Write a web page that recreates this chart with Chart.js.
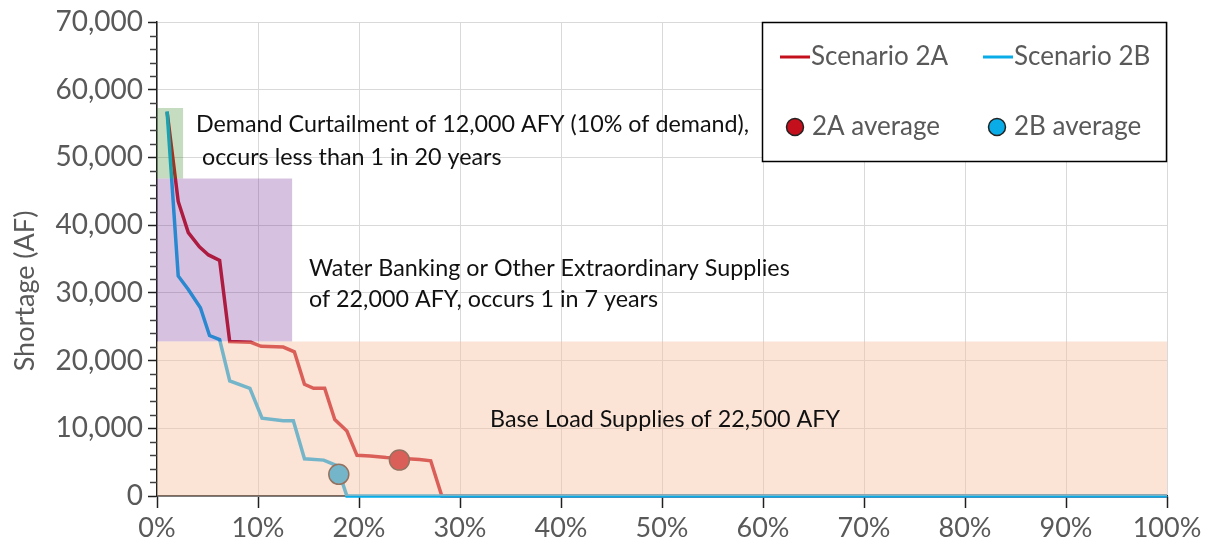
<!DOCTYPE html>
<html>
<head>
<meta charset="utf-8">
<script src="https://cdn.jsdelivr.net/npm/chart.js@4.4.1/dist/chart.umd.min.js"></script>
<style>
  html, body { margin: 0; padding: 0; background: #fff; }
  #wrap { width: 1208px; height: 546px; }
</style>
</head>
<body>
<div id="wrap"><canvas id="myChart" width="1208" height="546"></canvas></div>
<script>
// exceedance (% of years) vs shortage (AF)
var pct2A   = [1.0, 2.1, 3.1, 4.2, 5.1, 6.2, 7.2, 9.3, 10.3, 12.5, 13.6, 14.6, 15.5, 16.6, 17.6, 18.8, 19.8, 21.1, 22.7, 26.0, 27.1, 28.2, 100];
var short2A = [56700, 43500, 38900, 36800, 35600, 34800, 22800, 22700, 22100, 22000, 21300, 16500, 15900, 15900, 11300, 9600, 6000, 5900, 5700, 5400, 5200, 0, 0];

var pct2B   = [1.0, 2.1, 3.1, 4.3, 5.2, 6.2, 7.2, 9.2, 10.4, 12.5, 13.5, 14.6, 16.5, 17.8, 18.8, 100];
var short2B = [56800, 32500, 30500, 27800, 23700, 23100, 17000, 15900, 11500, 11100, 11100, 5500, 5300, 4500, 0, 0];

var avg2A = [24.0, 5300];
var avg2B = [18.0, 3200];

// shaded bands: [x end %, y bottom, y top]
var bandCurtail = [2.6, 46900, 57300];
var bandBanking = [13.4, 22800, 46900];
var bandBase    = [100, 0, 22800];

var notes = [
  { x: 196, y: 124, text: 'Demand Curtailment of 12,000 AFY (10% of demand),' },
  { x: 196, y: 157, text: ' occurs less than 1 in 20 years' },
  { x: 309, y: 268, text: 'Water Banking or Other Extraordinary Supplies' },
  { x: 309, y: 299, text: 'of 22,000 AFY, occurs 1 in 7 years' },
  { x: 490, y: 419, text: 'Base Load Supplies of 22,500 AFY' }
];

var RED = 'rgb(196,16,28)';
var BLUE = 'rgb(10,172,232)';
var FONT = 'Lato';

function pts(xs, ys) {
  return xs.map(function (x, i) { return { x: x, y: ys[i] }; });
}
function band(b) {
  return [{ x: 0, y: b[2] }, { x: b[0], y: b[2] }];
}

var datasets = [
  { label: 'Scenario 2A', data: pts(pct2A, short2A), borderColor: RED, backgroundColor: RED,
    borderWidth: 3.5, pointRadius: 0, tension: 0, fill: false, clip: 5, order: 10 },
  { label: 'Scenario 2B', data: pts(pct2B, short2B), borderColor: BLUE, backgroundColor: BLUE,
    borderWidth: 3.5, pointRadius: 0, tension: 0, fill: false, clip: 5, order: 9 },
  { label: '2A average', data: [{ x: avg2A[0], y: avg2A[1] }], showLine: false, pointRadius: 10,
    pointBackgroundColor: RED, pointBorderColor: 'rgb(70,50,40)', pointBorderWidth: 1.5, order: 8 },
  { label: '2B average', data: [{ x: avg2B[0], y: avg2B[1] }], showLine: false, pointRadius: 10,
    pointBackgroundColor: BLUE, pointBorderColor: 'rgb(70,50,40)', pointBorderWidth: 1.5, order: 7 },
  { label: 'band1', data: band(bandCurtail), fill: { value: bandCurtail[1] }, backgroundColor: 'rgba(65,138,45,0.3)',
    borderColor: 'rgba(0,0,0,0)', borderWidth: 0, pointRadius: 0, order: 3 },
  { label: 'band2', data: band(bandBanking), fill: { value: bandBanking[1] }, backgroundColor: 'rgba(118,52,152,0.3)',
    borderColor: 'rgba(0,0,0,0)', borderWidth: 0, pointRadius: 0, order: 2 },
  { label: 'band3', data: band(bandBase), fill: { value: bandBase[1] }, backgroundColor: 'rgba(246,192,164,0.45)',
    borderColor: 'rgba(0,0,0,0)', borderWidth: 0, pointRadius: 0, order: 1 }
];

// notes, minor ticks, axis title, legend box
var extras = {
  id: 'extras',
  afterDatasetsDraw: function (chart) {
    var ctx = chart.ctx;
    ctx.save();
    ctx.fillStyle = '#111';
    ctx.font = '23.3px ' + FONT;
    ctx.textBaseline = 'middle';
    ctx.textAlign = 'left';
    notes.forEach(function (n) { ctx.fillText(n.text, n.x, n.y); });
    ctx.restore();
  },
  afterDraw: function (chart) {
    var ctx = chart.ctx, y = chart.scales.y, area = chart.chartArea;
    ctx.save();
    ctx.strokeStyle = '#404040';
    ctx.lineWidth = 1.5;
    for (var v = 2000; v < 70000; v += 2000) {
      if (v % 10000 === 0) continue;
      var py = Math.round(y.getPixelForValue(v)) + 0.5;
      ctx.beginPath();
      ctx.moveTo(area.left - 7, py);
      ctx.lineTo(area.left, py);
      ctx.stroke();
    }
    // y title
    ctx.fillStyle = '#595959';
    ctx.font = '27px ' + FONT;
    ctx.textAlign = 'center';
    ctx.textBaseline = 'middle';
    ctx.translate(25, 291);
    ctx.rotate(-Math.PI / 2);
    ctx.fillText('Shortage (AF)', 0, 0);
    ctx.restore();

    // legend
    var ds = chart.data.datasets;
    ctx.save();
    ctx.fillStyle = '#fff';
    ctx.fillRect(762, 22, 404, 139);
    ctx.strokeStyle = '#000';
    ctx.lineWidth = 1.5;
    ctx.strokeRect(762.5, 22.5, 404, 139);
    ctx.font = '26px ' + FONT;
    ctx.fillStyle = '#595959';
    ctx.textBaseline = 'middle';
    ctx.textAlign = 'left';
    [[780, 57, 0], [983, 57, 1]].forEach(function (it) {
      ctx.strokeStyle = ds[it[2]].borderColor;
      ctx.lineWidth = 3;
      ctx.beginPath();
      ctx.moveTo(it[0], it[1]);
      ctx.lineTo(it[0] + 30, it[1]);
      ctx.stroke();
      ctx.fillText(ds[it[2]].label, it[0] + 31, it[1]);
    });
    [[795, 127, 2], [997, 127, 3]].forEach(function (it) {
      ctx.beginPath();
      ctx.arc(it[0], it[1], 8.5, 0, Math.PI * 2);
      ctx.fillStyle = ds[it[2]].pointBackgroundColor;
      ctx.fill();
      ctx.strokeStyle = '#222';
      ctx.lineWidth = 1.5;
      ctx.stroke();
      ctx.fillStyle = '#595959';
      ctx.fillText(ds[it[2]].label, it[0] + 17, it[1]);
    });
    ctx.restore();
  }
};

new Chart(document.getElementById('myChart').getContext('2d'), {
  type: 'line',
  data: { datasets: datasets },
  plugins: [extras],
  options: {
    responsive: false,
    animation: false,
    layout: { padding: { top: 22, right: 41, left: 0, bottom: 0 } },
    plugins: { legend: { display: false }, tooltip: { enabled: false } },
    scales: {
      x: {
        type: 'linear', min: 0, max: 100,
        afterFit: function (s) { s.height = 50; },
        ticks: { stepSize: 10, padding: 4, color: '#595959', font: { family: FONT, size: 27 },
                 callback: function (v) { return v + '%'; } },
        grid: { color: '#d9d9d9', lineWidth: 1, tickLength: 12, tickColor: '#202020', tickWidth: 1.5 },
        border: { color: '#202020', width: 1.5 }
      },
      y: {
        min: 0, max: 70000,
        afterFit: function (s) { s.width = 157; },
        ticks: { stepSize: 10000, padding: 5, color: '#595959', font: { family: FONT, size: 28 },
                 callback: function (v) { return v.toLocaleString('en-US'); } },
        grid: { color: '#d9d9d9', lineWidth: 1, tickLength: 9, tickColor: '#202020', tickWidth: 1.5 },
        border: { color: '#202020', width: 1.5 }
      }
    }
  }
});
</script>
</body>
</html>
